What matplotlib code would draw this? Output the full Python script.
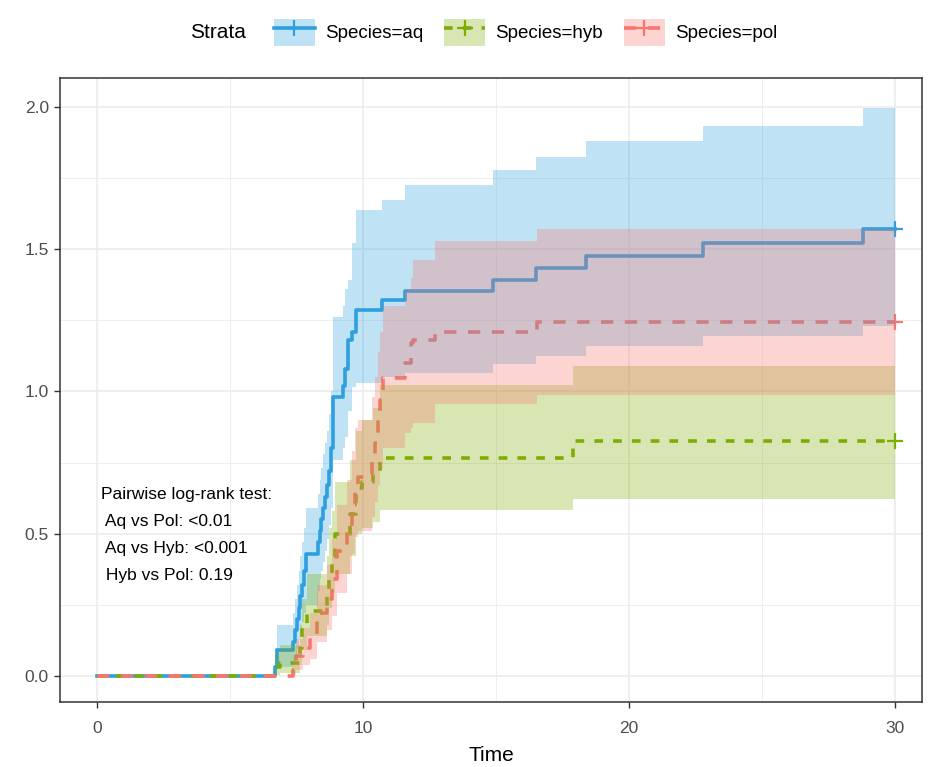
import matplotlib
matplotlib.use("Agg")
import matplotlib.pyplot as plt
from matplotlib.patches import Patch
from matplotlib.lines import Line2D

plt.rcParams["font.family"] = ["Liberation Sans", "DejaVu Sans"]

# cumulative hazard by species: event time, estimate, lower CI, upper CI
aq_time = [0, 6.69, 6.77, 7.37, 7.45, 7.52, 7.58, 7.65, 7.71, 7.78, 7.85, 8.31, 8.38,
           8.44, 8.50, 8.58, 8.65, 8.72, 8.80, 8.87, 9.25, 9.32, 9.44, 9.58, 9.74,
           10.71, 11.58, 14.9, 16.5, 18.4, 22.8, 28.8, 30]
aq_est = [0, 0.03, 0.09, 0.12, 0.16, 0.20, 0.24, 0.28, 0.32, 0.37, 0.43, 0.47, 0.51,
          0.55, 0.59, 0.63, 0.67, 0.72, 0.80, 0.98, 1.02, 1.08, 1.18, 1.21, 1.287,
          1.32, 1.351, 1.393, 1.435, 1.475, 1.523, 1.569, 1.569]
aq_low = [0, 0.005, 0.03, 0.05, 0.07, 0.10, 0.13, 0.16, 0.19, 0.22, 0.25, 0.30, 0.34,
          0.37, 0.40, 0.44, 0.48, 0.53, 0.59, 0.76, 0.80, 0.84, 0.93, 1.017, 1.03,
          1.05, 1.065, 1.096, 1.126, 1.158, 1.196, 1.229, 1.229]
aq_up = [0, 0.10, 0.18, 0.22, 0.27, 0.32, 0.37, 0.42, 0.47, 0.52, 0.59, 0.64, 0.69,
         0.73, 0.78, 0.82, 0.86, 0.92, 1.00, 1.26, 1.30, 1.36, 1.39, 1.52, 1.637,
         1.674, 1.724, 1.777, 1.824, 1.88, 1.932, 1.997, 1.997]

hyb_time = [0, 6.69, 6.88, 7.63, 7.71, 7.89, 8.65, 8.72, 8.83, 8.95, 9.51, 9.74,
            9.96, 10.38, 10.64, 17.89, 30]
hyb_est = [0, 0.03, 0.045, 0.10, 0.17, 0.23, 0.28, 0.36, 0.42, 0.50, 0.57, 0.66,
           0.68, 0.71, 0.767, 0.824, 0.824]
hyb_low = [0, 0.005, 0.01, 0.04, 0.09, 0.14, 0.18, 0.24, 0.29, 0.36, 0.42, 0.50,
           0.52, 0.54, 0.584, 0.623, 0.623]
hyb_up = [0, 0.08, 0.11, 0.18, 0.27, 0.36, 0.42, 0.52, 0.58, 0.68, 0.76, 0.86,
          0.90, 0.94, 1.023, 1.088, 1.088]

pol_time = [0, 7.37, 7.48, 7.74, 8.01, 8.27, 8.65, 8.83, 9.02, 9.40, 9.59, 9.70,
            9.81, 10.34, 10.45, 10.56, 10.64, 10.75, 11.58, 11.80, 11.88, 12.71,
            16.54, 30]
pol_est = [0, 0.02, 0.07, 0.10, 0.14, 0.22, 0.27, 0.34, 0.44, 0.52, 0.60, 0.67,
           0.70, 0.76, 0.82, 0.90, 0.97, 1.048, 1.10, 1.17, 1.18, 1.21, 1.243, 1.243]
pol_low = [0, 0.003, 0.02, 0.04, 0.06, 0.12, 0.16, 0.21, 0.29, 0.36, 0.43, 0.49,
           0.51, 0.56, 0.61, 0.67, 0.73, 0.80, 0.855, 0.87, 0.89, 0.957, 0.986, 0.986]
pol_up = [0, 0.06, 0.13, 0.17, 0.22, 0.32, 0.39, 0.48, 0.60, 0.69, 0.79, 0.87,
          0.90, 0.98, 1.05, 1.14, 1.21, 1.30, 1.36, 1.40, 1.46, 1.528, 1.569, 1.569]

labels = ["Species=aq", "Species=hyb", "Species=pol"]
colors = ["#2E9FDF", "#7CAE00", "#F8766D"]
dashes = [None, (2.4, 2.8), (3.4, 3.2)]

stats_text = ("Pairwise log-rank test:\n Aq vs Pol: <0.01\n"
              " Aq vs Hyb: <0.001\n Hyb vs Pol: 0.19")

groups = [
    (aq_time, aq_est, aq_low, aq_up),
    (hyb_time, hyb_est, hyb_low, hyb_up),
    (pol_time, pol_est, pol_low, pol_up),
]

fig = plt.figure(figsize=(9.4, 7.67), dpi=100)
ax = fig.add_axes([0.0638, 0.0847, 0.917, 0.8136])

for (t, est, lo, up), col, ds in zip(groups, colors, dashes):
    line, = ax.plot(t, est, drawstyle="steps-post", color=col, lw=2.6, zorder=3)
    if ds is not None:
        line.set_dashes(ds)
    ax.plot(t[-1], est[-1], marker="+", color=col, ms=11, mew=1.6, zorder=3)
for (t, est, lo, up), col in zip(groups, colors):
    ax.fill_between(t, lo, up, step="post", color=col, alpha=0.3, lw=0, zorder=4)

ax.text(0.15, 0.664, stats_text, ha="left", va="top", fontsize=12.5,
        linespacing=2.0, color="black", zorder=5)

ax.set_xlim(-1.39, 31.02)
ax.set_ylim(-0.0914, 2.101)
ax.set_xticks([0, 10, 20, 30])
ax.set_xticks([5, 15, 25], minor=True)
ax.set_yticks([0, 0.5, 1.0, 1.5, 2.0])
ax.set_yticklabels(["0.0", "0.5", "1.0", "1.5", "2.0"])
ax.set_yticks([0.25, 0.75, 1.25, 1.75], minor=True)
ax.grid(which="major", color="#EBEBEB", lw=1.1, zorder=0)
ax.grid(which="minor", color="#EBEBEB", lw=0.6, zorder=0)
ax.set_axisbelow(True)
ax.tick_params(which="major", length=4, width=1, color="#333333",
               labelcolor="#4D4D4D", labelsize=12.5, pad=4)
ax.tick_params(axis="x", which="major", pad=10)
ax.tick_params(which="minor", length=0)
for sp in ax.spines.values():
    sp.set_color("#333333")
    sp.set_linewidth(1.1)
ax.set_xlabel("Time", fontsize=15, labelpad=7)

# legend across the top
handles = []
for col, ds in zip(colors, dashes):
    ln = Line2D([], [], color=col, lw=2.6, marker="+", ms=11, mew=1.6)
    if ds is not None:
        ln.set_dashes(ds)
    handles.append((Patch(facecolor=col, alpha=0.3, edgecolor="none"), ln))
fig.text(0.202, 0.958, "Strata", fontsize=15, ha="left", va="center")
fig.legend(handles, labels, loc="center left", bbox_to_anchor=(0.283, 0.958),
           ncol=3, frameon=False, fontsize=13.5, handlelength=2.2, handleheight=1.85,
           handletextpad=0.55, columnspacing=1.1, borderaxespad=0)

fig.savefig("out.png", dpi=100)
